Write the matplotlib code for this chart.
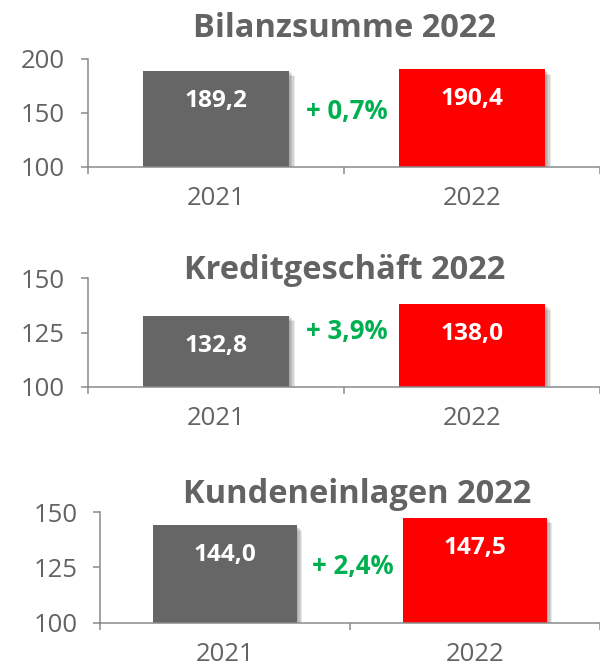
import matplotlib
matplotlib.use("Agg")
import matplotlib.pyplot as plt
import matplotlib.patheffects as pe

years = ["2021", "2022"]
titles = ["Bilanzsumme 2022", "Kreditgeschäft 2022", "Kundeneinlagen 2022"]
bilanz = [189.2, 190.4]
kredit = [132.8, 138.0]
einlagen = [144.0, 147.5]
changes = ["+ 0,7%", "+ 3,9%", "+ 2,4%"]
yticks_1 = [100, 150, 200]
yticks_2 = [100, 125, 150]
yticks_3 = [100, 125, 150]

series = [bilanz, kredit, einlagen]
yticks_all = [yticks_1, yticks_2, yticks_3]

W, H = 600, 664
fig = plt.figure(figsize=(W / 100, H / 100), dpi=100)

# pixel layout: (axis_left_x, y_top_px, y_bottom_px, category_spacing_px, title_x, title_baseline, ytick pad)
layout = [
    (88, 59, 167, 257.5, 344, 36.7, 12),
    (88, 278.3, 386.7, 257.5, 344.5, 279.3, 12),
    (100, 512, 622.7, 258, 357.5, 503.3, 11),
]

bar_colors = ["#666666", "#ff0000"]
spine_col = "#8a8a8a"
text_gray = "#636363"
green = "#00b050"

shadow = [pe.SimplePatchShadow(offset=(k, -k), shadow_rgbFace="#000000", alpha=0.09)
          for k in (1.0, 2.0, 3.0, 4.0)] + [pe.Normal()]

for i in range(3):
    ax_x, ytop, ybot, spacing, tx, tb, ypad = layout[i]
    vals = series[i]
    yt = yticks_all[i]
    left = ax_x / W
    width = (W - ax_x) / W
    bottom = 1 - ybot / H
    height = (ybot - ytop) / H
    ax = fig.add_axes([left, bottom, width, height])
    xr = -0.5 + (W - ax_x) / spacing
    bars = ax.bar([0, 1], [v - yt[0] for v in vals], bottom=yt[0], width=0.574,
                  color=bar_colors, zorder=2)
    for b in bars:
        b.set_path_effects(shadow)
    ax.set_xlim(-0.5, xr)
    ax.set_ylim(yt[0], yt[-1])
    for s in ["top", "right"]:
        ax.spines[s].set_visible(False)
    for s in ["left", "bottom"]:
        ax.spines[s].set_color(spine_col)
        ax.spines[s].set_linewidth(1.1)
        ax.spines[s].set_zorder(3)
    ax.set_yticks(yt)
    ax.set_yticklabels([str(t) for t in yt])
    ax.set_xticks([-0.5, 0.5, 1.5])
    ax.set_xticklabels(["", "", ""])
    ax.set_xticks([0, 1], minor=True)
    ax.set_xticklabels(years, minor=True)
    ax.tick_params(axis="x", which="major", length=5, width=1.1, color=spine_col, direction="out")
    ax.tick_params(axis="x", which="minor", length=0, pad=14, labelsize=18.5, labelcolor=text_gray)
    ax.tick_params(axis="y", length=5, width=1.1, color=spine_col, direction="out",
                   pad=ypad, labelsize=18.5, labelcolor=text_gray)
    for lab in ax.get_xticklabels(minor=True) + ax.get_yticklabels():
        lab.set_fontfamily("Open Sans")
    ax.patch.set_alpha(0)

    for x, v in zip([0, 1], vals):
        ax.annotate(f"{v:.1f}".replace(".", ","), xy=(x, v), xytext=(0, -26),
                    textcoords="offset points", ha="center", va="baseline",
                    color="white", fontsize=17.6, fontweight="bold",
                    fontfamily="Open Sans", zorder=4)

    ax.text(0.512, yt[0] + 0.442 * (yt[-1] - yt[0]), changes[i], ha="center", va="baseline",
            color=green, fontsize=18.5, fontweight="bold", fontfamily="Open Sans", zorder=4)

    fig.text(tx / W, 1 - tb / H, titles[i], ha="center", va="baseline",
             fontsize=23.5, fontweight="bold", color=text_gray, fontfamily="Open Sans")

fig.savefig("out.png", dpi=100)
